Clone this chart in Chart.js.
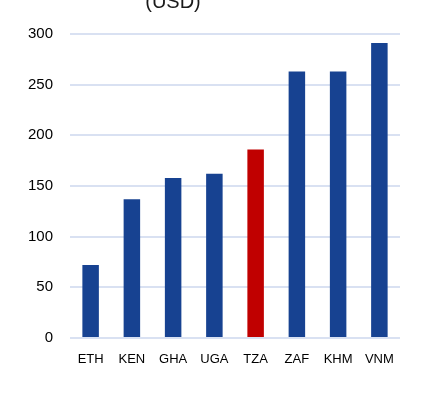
<!DOCTYPE html>
<html>
<head>
<meta charset="utf-8">
<script src="https://cdn.jsdelivr.net/npm/chart.js@4"></script>
<style>
  html, body { margin: 0; padding: 0; background: #fff; }
  #wrap { width: 434px; height: 403px; position: relative; }
</style>
</head>
<body>
<div id="wrap"><canvas id="c" width="434" height="403"></canvas></div>
<script>
const countries = ["ETH", "KEN", "GHA", "UGA", "TZA", "ZAF", "KHM", "VNM"];
const values = [72, 137, 158, 162, 186, 263, 263, 291];
const highlight = "TZA";
const yTicks = [0, 50, 100, 150, 200, 250, 300];
const titleText = "(USD)";

const BLUE = "#174291";
const RED = "#c00000";
const GRID = "#d9e1f2";
const FONT = "'Liberation Sans', Arial, sans-serif";

// title sits partly above the picture, drawn left of centre like the source
const cutTitle = {
  id: "cutTitle",
  afterDraw(chart) {
    const ctx = chart.ctx;
    ctx.save();
    ctx.font = "20px " + FONT;
    ctx.fillStyle = "#1a1a1a";
    ctx.textAlign = "center";
    ctx.textBaseline = "alphabetic";
    ctx.fillText(titleText, 173, 8);
    ctx.restore();
  }
};

new Chart(document.getElementById("c"), {
  type: "bar",
  data: {
    labels: countries,
    datasets: [{
      data: values,
      backgroundColor: countries.map((c) => (c === highlight ? RED : BLUE)),
      borderWidth: 0,
      categoryPercentage: 0.8,
      barPercentage: 0.5
    }]
  },
  options: {
    responsive: false,
    animation: false,
    layout: { padding: { top: 34, right: 34, left: 0, bottom: 0 } },
    plugins: { legend: { display: false }, tooltip: { enabled: false }, title: { display: false } },
    scales: {
      y: {
        min: 0,
        max: 300,
        afterBuildTicks: (s) => { s.ticks = yTicks.map((v) => ({ value: v })); },
        afterFit: (s) => { s.width = 70; },
        border: { display: false },
        grid: { color: GRID, lineWidth: 2, drawTicks: false },
        ticks: { padding: 17, color: "#000", font: { family: FONT, size: 15 } }
      },
      x: {
        afterFit: (s) => { s.height = 65; },
        border: { display: false },
        grid: { display: false, drawTicks: false },
        ticks: { padding: 14, color: "#000", font: { family: FONT, size: 13 } }
      }
    }
  },
  plugins: [cutTitle]
});
</script>
</body>
</html>
